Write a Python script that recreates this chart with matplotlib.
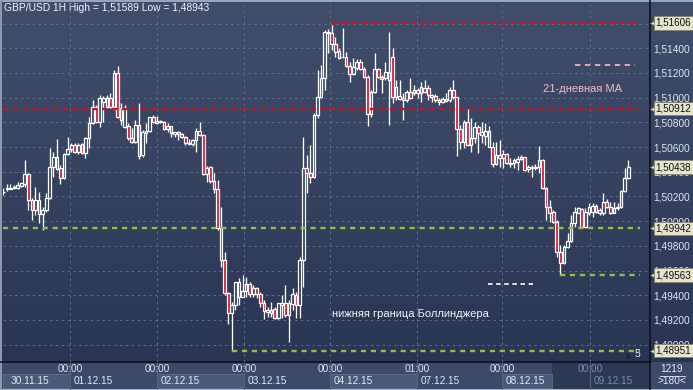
import matplotlib
matplotlib.use("Agg")
import matplotlib.pyplot as plt
import numpy as np
from matplotlib.colors import LinearSegmentedColormap
from matplotlib.patches import Rectangle
import matplotlib.transforms as mtransforms

plt.rcParams['font.family'] = ['Liberation Sans', 'DejaVu Sans']

# ---------------- data (GBP/USD 1H candles) ----------------
opens = [
    1.50240, 1.50257, 1.50263, 1.50266, 1.50266, 1.50287, 1.50298, 1.50379, 1.50171, 1.50090,
    1.50171, 1.50058, 1.50090, 1.50184, 1.50441, 1.50517, 1.50428, 1.50347, 1.50541, 1.50581,
    1.50617, 1.50563, 1.50625, 1.50549, 1.50671, 1.50792, 1.50927, 1.50806, 1.50968, 1.50927,
    1.50995, 1.50927, 1.51202, 1.50914, 1.50765, 1.50770, 1.50671, 1.50644, 1.50779, 1.50536,
    1.50711, 1.50730, 1.50841, 1.50797, 1.50800, 1.50806, 1.50743, 1.50770, 1.50706, 1.50706,
    1.50706, 1.50679, 1.50622, 1.50622, 1.50657, 1.50730, 1.50698, 1.50379, 1.50441, 1.50325,
    1.50257, 1.49942, 1.49685, 1.49415, 1.49253, 1.49321, 1.49388, 1.49388, 1.49437, 1.49491,
    1.49410, 1.49461, 1.49410, 1.49339, 1.49261, 1.49253, 1.49285, 1.49213, 1.49318, 1.49334,
    1.49240, 1.49329, 1.49402, 1.49321, 1.49685, 1.50428, 1.50387, 1.50355, 1.50860, 1.51003,
    1.51157, 1.51535, 1.51521, 1.51435, 1.51381, 1.51327, 1.51327, 1.51256, 1.51192, 1.51238,
    1.51292, 1.51232, 1.51165, 1.50865, 1.51049, 1.51229, 1.51170, 1.51157, 1.51143, 1.51332,
    1.51008, 1.51013, 1.50981, 1.50981, 1.51049, 1.51035, 1.51062, 1.51035, 1.51049, 1.51081,
    1.51008, 1.51013, 1.50968, 1.50986, 1.50976, 1.50981, 1.51062, 1.51003, 1.50743, 1.50644,
    1.50806, 1.50617, 1.50671, 1.50765, 1.50698, 1.50692, 1.50730, 1.50603, 1.50463, 1.50536,
    1.50509, 1.50541, 1.50463, 1.50468, 1.50482, 1.50500, 1.50517, 1.50419, 1.50428, 1.50428,
    1.50436, 1.50495, 1.50266, 1.50117, 1.50077, 1.49996, 1.49753, 1.49658, 1.49793, 1.49839,
    1.49982, 1.50068, 1.50095, 1.49950, 1.50068, 1.50077, 1.50125, 1.50063, 1.50063, 1.50158,
    1.50117, 1.50068, 1.50109, 1.50117, 1.50244, 1.50347]
highs = [
    1.50266, 1.50301, 1.50301, 1.50292, 1.50320, 1.50311, 1.50495, 1.50387, 1.50184, 1.50279,
    1.50239, 1.50117, 1.50225, 1.50590, 1.50563, 1.50662, 1.50455, 1.50549, 1.50679, 1.50630,
    1.50630, 1.50630, 1.50630, 1.50684, 1.50846, 1.50981, 1.50941, 1.51022, 1.51013, 1.51022,
    1.51035, 1.51224, 1.51256, 1.50954, 1.50940, 1.50792, 1.50752, 1.50819, 1.50954, 1.50738,
    1.50792, 1.50846, 1.50860, 1.50851, 1.50819, 1.50814, 1.50792, 1.50773, 1.50725, 1.50727,
    1.50716, 1.50689, 1.50662, 1.50665, 1.50752, 1.50806, 1.50706, 1.50446, 1.50446, 1.50392,
    1.50333, 1.50112, 1.49753, 1.49429, 1.49348, 1.49510, 1.49537, 1.49564, 1.49550, 1.49510,
    1.49483, 1.49469, 1.49429, 1.49361, 1.49307, 1.49348, 1.49307, 1.49339, 1.49402, 1.49483,
    1.49361, 1.49456, 1.49429, 1.49712, 1.50684, 1.50536, 1.50617, 1.50873, 1.51224, 1.51265,
    1.51548, 1.51553, 1.51589, 1.51494, 1.51400, 1.51562, 1.51373, 1.51292, 1.51319, 1.51310,
    1.51310, 1.51251, 1.51184, 1.51062, 1.51359, 1.51238, 1.51184, 1.51292, 1.51535, 1.51400,
    1.51143, 1.51143, 1.51035, 1.51062, 1.51157, 1.51103, 1.51076, 1.51130, 1.51143, 1.51103,
    1.51030, 1.51030, 1.50995, 1.51008, 1.51035, 1.51084, 1.51143, 1.51008, 1.50779, 1.50819,
    1.50905, 1.50833, 1.50806, 1.50779, 1.50806, 1.50792, 1.50770, 1.50644, 1.50644, 1.50657,
    1.50576, 1.50549, 1.50509, 1.50509, 1.50527, 1.50536, 1.50522, 1.50455, 1.50455, 1.50463,
    1.50608, 1.50500, 1.50279, 1.50171, 1.50090, 1.50009, 1.49807, 1.49807, 1.49901, 1.50050,
    1.50117, 1.50117, 1.50104, 1.50104, 1.50144, 1.50144, 1.50139, 1.50104, 1.50230, 1.50176,
    1.50158, 1.50158, 1.50144, 1.50252, 1.50428, 1.50495]
lows = [
    1.50212, 1.50247, 1.50257, 1.50257, 1.50260, 1.50279, 1.50279, 1.50090, 1.50009, 1.50050,
    1.49982, 1.49928, 1.50077, 1.50176, 1.50355, 1.50414, 1.50298, 1.50338, 1.50536, 1.50563,
    1.50549, 1.50544, 1.50541, 1.50509, 1.50590, 1.50787, 1.50797, 1.50765, 1.50806, 1.50914,
    1.50914, 1.50900, 1.50833, 1.50779, 1.50752, 1.50657, 1.50635, 1.50630, 1.50500, 1.50517,
    1.50630, 1.50725, 1.50792, 1.50787, 1.50792, 1.50738, 1.50725, 1.50684, 1.50679, 1.50657,
    1.50671, 1.50617, 1.50614, 1.50611, 1.50563, 1.50689, 1.50374, 1.50320, 1.50311, 1.50225,
    1.49928, 1.49631, 1.49402, 1.49167, 1.48951, 1.49280, 1.49321, 1.49383, 1.49388, 1.49383,
    1.49388, 1.49375, 1.49307, 1.49204, 1.49226, 1.49226, 1.49207, 1.49207, 1.49213, 1.49226,
    1.49024, 1.49280, 1.49213, 1.49213, 1.49469, 1.50225, 1.50306, 1.50347, 1.50833, 1.50995,
    1.51062, 1.51359, 1.51386, 1.51332, 1.51313, 1.51319, 1.51251, 1.51130, 1.51184, 1.51224,
    1.51224, 1.51157, 1.50770, 1.50846, 1.51035, 1.51157, 1.51035, 1.51143, 1.50779, 1.50954,
    1.50981, 1.50981, 1.50819, 1.50968, 1.50986, 1.51022, 1.50995, 1.50968, 1.51035, 1.50981,
    1.50968, 1.50968, 1.50941, 1.50954, 1.50968, 1.50968, 1.50986, 1.50527, 1.50581, 1.50590,
    1.50608, 1.50563, 1.50630, 1.50554, 1.50630, 1.50617, 1.50598, 1.50441, 1.50455, 1.50441,
    1.50428, 1.50463, 1.50436, 1.50428, 1.50414, 1.50495, 1.50409, 1.50401, 1.50360, 1.50414,
    1.50387, 1.50257, 1.50009, 1.49996, 1.49987, 1.49712, 1.49563, 1.49653, 1.49780, 1.49834,
    1.49955, 1.50063, 1.49942, 1.49942, 1.50050, 1.50036, 1.50063, 1.50050, 1.50050, 1.50104,
    1.50058, 1.50063, 1.50090, 1.50104, 1.50239, 1.50338]
closes = [
    1.50235, 1.50271, 1.50271, 1.50279, 1.50293, 1.50306, 1.50379, 1.50171, 1.50090, 1.50171,
    1.50058, 1.50090, 1.50184, 1.50441, 1.50517, 1.50419, 1.50347, 1.50541, 1.50581, 1.50617,
    1.50563, 1.50617, 1.50549, 1.50671, 1.50792, 1.50927, 1.50806, 1.50995, 1.50995, 1.50995,
    1.50927, 1.51202, 1.50841, 1.50819, 1.50914, 1.50671, 1.50644, 1.50779, 1.50527, 1.50725,
    1.50730, 1.50841, 1.50806, 1.50814, 1.50811, 1.50743, 1.50770, 1.50711, 1.50719, 1.50722,
    1.50679, 1.50630, 1.50635, 1.50657, 1.50730, 1.50698, 1.50379, 1.50428, 1.50325, 1.50257,
    1.49942, 1.49685, 1.49415, 1.49253, 1.49321, 1.49504, 1.49510, 1.49434, 1.49491, 1.49410,
    1.49461, 1.49410, 1.49339, 1.49275, 1.49280, 1.49280, 1.49213, 1.49334, 1.49339, 1.49240,
    1.49334, 1.49410, 1.49321, 1.49685, 1.50428, 1.50387, 1.50355, 1.50860, 1.51003, 1.51157,
    1.51535, 1.51521, 1.51435, 1.51373, 1.51319, 1.51332, 1.51256, 1.51192, 1.51251, 1.51292,
    1.51232, 1.51165, 1.50865, 1.51049, 1.51229, 1.51165, 1.51148, 1.51211, 1.51211, 1.51008,
    1.51089, 1.50989, 1.50995, 1.51049, 1.51000, 1.51062, 1.51035, 1.51089, 1.51076, 1.51022,
    1.51022, 1.50981, 1.50981, 1.50968, 1.50986, 1.51062, 1.51003, 1.50743, 1.50644, 1.50806,
    1.50617, 1.50671, 1.50765, 1.50716, 1.50725, 1.50730, 1.50603, 1.50463, 1.50536, 1.50509,
    1.50541, 1.50468, 1.50473, 1.50495, 1.50500, 1.50517, 1.50414, 1.50436, 1.50441, 1.50436,
    1.50495, 1.50266, 1.50117, 1.50068, 1.49996, 1.49753, 1.49658, 1.49793, 1.49839, 1.49982,
    1.50077, 1.50104, 1.49950, 1.50077, 1.50117, 1.50125, 1.50077, 1.50090, 1.50158, 1.50112,
    1.50063, 1.50109, 1.50117, 1.50244, 1.50347, 1.50441]

price_ticks = [1.490, 1.492, 1.494, 1.496, 1.498, 1.500, 1.502, 1.504,
               1.506, 1.508, 1.510, 1.512, 1.514, 1.516]
day_pos = [18.7, 43.0, 67.4, 91.5, 115.8, 139.6, 164.3]       # candle-index of day starts
time_labels = ["00:00", "00:00", "00:00", "00:00", "01:00", "00:00", "00:00"]
date_labels = ["30.11.15", "01.12.15", "02.12.15", "03.12.15", "04.12.15",
               "07.12.15", "08.12.15", "09.12.15"]
tag_levels = [1.51606, 1.50912, 1.50438, 1.49942, 1.49563, 1.48951]
red_levels = [1.51606, 1.50912]
red_start = [92, 0]
green_levels = [1.49942, 1.49563, 1.48951]
green_start = [0, 156, 64]
ma_level = 1.51264
bb_level = 1.49491
title_text = "GBP/USD 1H High = 1,51589 Low = 1,48943"
ma_text = "21-дневная МА"
bb_text = "нижняя граница Боллинджера"
bars_count = "1219"
zoom_text = ">180<"

FS = 7.3

# ---------------- figure ----------------
W, H = 693, 390
fig = plt.figure(figsize=(W / 100, H / 100), dpi=100)

bg = fig.add_axes([0, 0, 1, 1], zorder=-10)
bg.set_axis_off()
cmap = LinearSegmentedColormap.from_list('bg', ['#414e6b', '#2a3553'])
bg.imshow(np.linspace(0, 1, 256)[:, None], aspect='auto', cmap=cmap,
          extent=[0, W, 362, 0], origin='upper')
bg.set_xlim(0, W)
bg.set_ylim(H, 0)
# bottom time panel
bg.add_patch(Rectangle((0, 362), W, 28, fc='#3c4968', ec='none'))
bg.add_patch(Rectangle((552, 362), 98, 27, fc='#2d3853', ec='none'))
bg.add_patch(Rectangle((0, 388.5), W, 1.5, fc='#a9b1c0', ec='none'))
bg.add_patch(Rectangle((0, 0), W, 1.5, fc='#9ba5b7', ec='none'))
bg.add_patch(Rectangle((0, 0), 1.5, H, fc='#8f99ab', ec='none'))
bg.plot([650, 650], [0, 390], color='#0b0f18', lw=1.1)
bg.plot([0, 650], [362, 362], color='#0b0f18', lw=1.1)
bg.plot([660, 685], [376, 376], color='#c9d2e0', lw=0.7)
bg.text(672, 369.5, bars_count, ha='center', va='center', fontsize=FS, color='#e6ecf5', zorder=5)
bg.text(672, 381.5, zoom_text, ha='center', va='center', fontsize=FS, color='#e6ecf5', zorder=5)
bg.text(4, 8, title_text, ha='left', va='center', fontsize=7.4, color='#f2f5fa')

# ---------------- main chart ----------------
ax = fig.add_axes([3 / W, 1 - 362 / H, 647 / W, 360 / H])
ax.set_facecolor('none')
for s in ax.spines.values():
    s.set_visible(False)
ax.set_xlim(-0.084, 181.1)
ax.set_ylim(1.48859, 1.51775)

grid_c = '#5f6e8f'
for p in price_ticks:
    ax.axhline(p, color=grid_c, lw=0.7, ls=(0, (2.5, 3.5)), zorder=0)
for d in day_pos:
    ax.axvline(d, color=grid_c, lw=0.7, ls=(0, (2.5, 3.5)), zorder=0)

o = np.array(opens); h = np.array(highs); l = np.array(lows); c = np.array(closes)
x = np.arange(len(o))
top = np.maximum(o, c)
bot = np.minimum(o, c)
hgt = np.maximum(top - bot, 0.00005)
ax.vlines(x, top, h, color='white', lw=0.95, zorder=3)
ax.vlines(x, l, bot, color='white', lw=0.95, zorder=3)
bull = c >= o
ax.bar(x[bull], hgt[bull], bottom=bot[bull], width=0.76, facecolor='none',
       edgecolor='white', linewidth=0.9, zorder=4)
ax.bar(x[~bull], hgt[~bull], bottom=bot[~bull], width=0.76, facecolor='#e3122e',
       edgecolor='white', linewidth=0.9, zorder=4)

x_end = 178.3
for lv, st in zip(red_levels, red_start):
    ax.hlines(lv, st, x_end, color='#d0101e', lw=1.7, linestyles=(0, (2.2, 2.0)), zorder=5)
for lv, st in zip(green_levels, green_start):
    ax.hlines(lv, st, x_end, color='#8fbf4a', lw=1.7, linestyles=(0, (2.2, 2.0)), zorder=5)
ax.hlines(ma_level, 160.1, 176.9, color='#f5b0bd', lw=1.3, linestyles=(0, (3, 2.5)), zorder=5)
ax.hlines(bb_level, 135.7, 148.3, color='#f2f2f2', lw=1.3, linestyles=(0, (2.5, 2.0)), zorder=5)
ax.text(162.1, 1.51070, ma_text, ha='center', va='center', fontsize=8, color='#f6b9c6', zorder=6)
ax.text(92.0, 1.49248, bb_text, ha='left', va='center', fontsize=8, color='#f2f4f8', zorder=6)
ax.text(177.5, 1.48925, "5", ha='center', va='center', fontsize=7.5, color='#e6ecf5', zorder=6)
ax.plot([175.0], [1.48915], marker='^', ms=3.5, color='#1f2739', zorder=6)

# right price scale (the 1,51600 label sits fully under its price tag)
shown = [p for p in price_ticks if p < 1.5155]
ax.set_xticks([])
ax.set_yticks(shown)
ax.set_yticklabels([f"{p:.5f}".replace('.', ',') for p in shown])
ax.tick_params(axis='y', left=False, right=False, labelleft=False, labelright=True,
               length=0, pad=2.5, labelsize=FS, labelcolor='#dde5f2')

ytrans = mtransforms.blended_transform_factory(ax.transAxes, ax.transData)
for lv in tag_levels:
    t = mtransforms.offset_copy(ytrans, fig=fig, x=5.5, y=0, units='dots')
    ax.text(1.0, lv, f"{lv:.5f}".replace('.', ','), transform=t, ha='left', va='center',
            fontsize=7.1, color='#111111', clip_on=False, zorder=12,
            bbox=dict(boxstyle='square,pad=0.18', fc='#e7e4cd', ec='#85836f', lw=0.6))
    t2 = mtransforms.offset_copy(ytrans, fig=fig, x=2.8, y=0, units='dots')
    ax.plot([1.0], [lv], transform=t2, marker='<', ms=4.5, color='#e7e4cd',
            mec='#85836f', mew=0.4, clip_on=False, zorder=11)

# bottom time axis (x from candle index, y in figure coords)
xtrans = mtransforms.blended_transform_factory(ax.transData, fig.transFigure)
box_spans = [(-0.1, day_pos[0]), (day_pos[1], day_pos[2]), (day_pos[3], day_pos[4]),
             (day_pos[5], 153.6)]
for a, b in box_spans:
    ax.add_patch(Rectangle((a, 1 - 388 / H), b - a, 14 / H, transform=xtrans,
                           fc='#4b5979', ec='#5f6d8d', lw=0.6, clip_on=False, zorder=1))
for d in day_pos:
    ax.plot([d, d], [1 - 389 / H, 1 - 363 / H], transform=xtrans, color='#56657f',
            lw=0.8, clip_on=False, zorder=1)
for i, (d, lab) in enumerate(zip(day_pos, time_labels)):
    col = '#7d8aa3' if i == len(day_pos) - 1 else '#dbe3f0'
    ax.text(d, 1 - 369 / H, lab, transform=xtrans, ha='center', va='center',
            fontsize=FS, color=col, clip_on=False, zorder=7)
date_x = [1.9] + [d + 1.1 for d in day_pos]
for i, (d, lab) in enumerate(zip(date_x, date_labels)):
    col = '#7d8aa3' if i == len(date_labels) - 1 else '#e3e9f3'
    ax.text(d, 1 - 381.5 / H, lab, transform=xtrans, ha='left', va='center',
            fontsize=FS, color=col, clip_on=False, zorder=7)

fig.savefig("out.png", dpi=100)
